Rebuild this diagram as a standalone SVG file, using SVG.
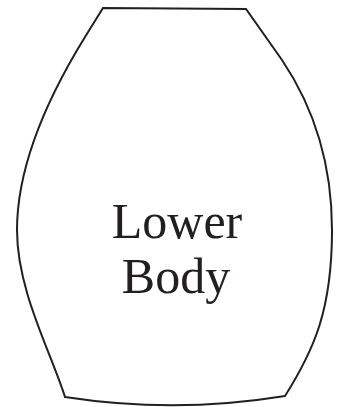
<svg xmlns="http://www.w3.org/2000/svg" width="341" height="407" viewBox="0 0 341 407">
<style>
.outline{fill:#ffffff;stroke:#231f20;stroke-width:2;stroke-linejoin:miter}
.label{font-family:"Liberation Serif","Times New Roman",serif;font-size:50px;fill:#231f20;text-anchor:middle}
</style>
<rect width="341" height="407" fill="#ffffff"/>
<g id="lower-body">
<path class="outline" d="M103,8 L246,9 L282,60 C315,109 332,166 332,230 C332,310 314,350 285,396 Q175,414 65,397 C50,350 17,290 17,230 C17,174 40,110 85,37 Z"/>
<text class="label" x="177" y="238">Lower</text>
<text class="label" x="176" y="293">Body</text>
</g>
</svg>
